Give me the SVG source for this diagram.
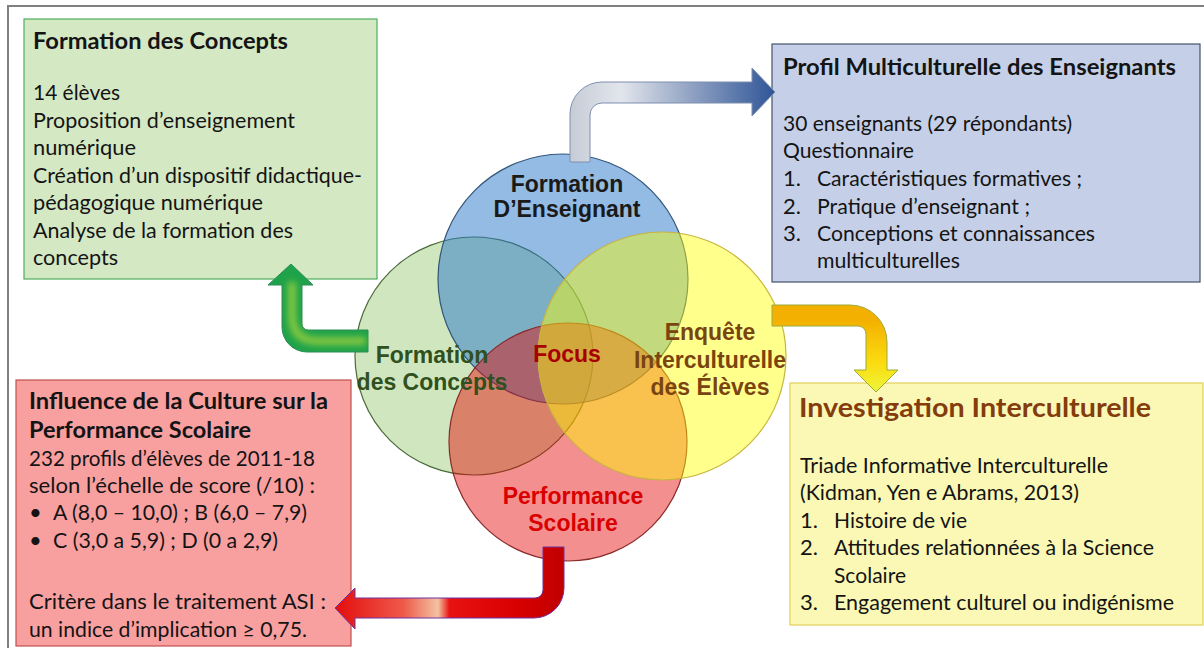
<svg xmlns="http://www.w3.org/2000/svg" width="1204" height="648" viewBox="0 0 1204 648">
<style>
.bx{font-family:Lato,"Open Sans","Liberation Sans",sans-serif;font-size:22px;fill:#141414}
.bt{font-weight:bold}
.cl{font-family:"Liberation Sans",Arial,sans-serif;font-size:23px;font-weight:bold;text-anchor:middle}
.circ{stroke-width:1.2}
</style>
<defs>
<linearGradient id="gBlue" gradientUnits="userSpaceOnUse" x1="570" y1="0" x2="775" y2="0">
<stop offset="0" stop-color="#c6ccd6"/>
<stop offset="0.25" stop-color="#e2e5ec"/>
<stop offset="0.55" stop-color="#9aaac8"/>
<stop offset="1" stop-color="#2f5597"/>
</linearGradient>
<linearGradient id="gOrange" gradientUnits="userSpaceOnUse" x1="0" y1="320" x2="0" y2="392">
<stop offset="0" stop-color="#f4b000"/>
<stop offset="0.6" stop-color="#fbdc10"/>
<stop offset="1" stop-color="#eef53a"/>
</linearGradient>
<linearGradient id="gRed" gradientUnits="userSpaceOnUse" x1="335" y1="0" x2="564" y2="0">
<stop offset="0" stop-color="#e30d0d"/>
<stop offset="0.3" stop-color="#ee5a4a"/>
<stop offset="0.45" stop-color="#f2c3a2"/>
<stop offset="0.5" stop-color="#e81212"/>
<stop offset="0.8" stop-color="#d80000"/>
<stop offset="1" stop-color="#c00000"/>
</linearGradient>
<filter id="blur" x="-20%" y="-20%" width="140%" height="140%"><feGaussianBlur stdDeviation="3"/></filter>
</defs>

<rect x="8" y="6" width="1210" height="660" fill="#ffffff" stroke="#808080" stroke-width="2"/>

<g id="box-formation">
<rect x="24" y="19" width="353" height="260" fill="#d5e8c4" stroke="#4cae5a" stroke-width="1.2"/>
<text class="bx bt" x="33" y="49" textLength="255" lengthAdjust="spacingAndGlyphs">Formation des Concepts</text>
<text class="bx" x="33" y="100" textLength="87" lengthAdjust="spacingAndGlyphs">14 élèves</text>
<text class="bx" x="33" y="128" textLength="262" lengthAdjust="spacingAndGlyphs">Proposition d’enseignement</text>
<text class="bx" x="33" y="155" textLength="103" lengthAdjust="spacingAndGlyphs">numérique</text>
<text class="bx" x="33" y="183" textLength="329" lengthAdjust="spacingAndGlyphs">Création d’un dispositif didactique-</text>
<text class="bx" x="33" y="210" textLength="230" lengthAdjust="spacingAndGlyphs">pédagogique numérique</text>
<text class="bx" x="33" y="238" textLength="260" lengthAdjust="spacingAndGlyphs">Analyse de la formation des</text>
<text class="bx" x="33" y="265" textLength="85" lengthAdjust="spacingAndGlyphs">concepts</text>
</g>

<g id="box-profil">
<rect x="772" y="44" width="428" height="238" fill="#c5d0e8" stroke="#44546a" stroke-width="1.2"/>
<text class="bx bt" x="783" y="75" textLength="393" lengthAdjust="spacingAndGlyphs">Profil Multiculturelle des Enseignants</text>
<text class="bx" x="783" y="131" textLength="289" lengthAdjust="spacingAndGlyphs">30 enseignants (29 répondants)</text>
<text class="bx" x="783" y="158" textLength="131" lengthAdjust="spacingAndGlyphs">Questionnaire</text>
<text class="bx" x="783" y="186">1.</text>
<text class="bx" x="817" y="186" textLength="265" lengthAdjust="spacingAndGlyphs">Caractéristiques formatives ;</text>
<text class="bx" x="783" y="214">2.</text>
<text class="bx" x="817" y="214" textLength="213" lengthAdjust="spacingAndGlyphs">Pratique d’enseignant ;</text>
<text class="bx" x="783" y="241">3.</text>
<text class="bx" x="817" y="241" textLength="278" lengthAdjust="spacingAndGlyphs">Conceptions et connaissances</text>
<text class="bx" x="817" y="268" textLength="143" lengthAdjust="spacingAndGlyphs">multiculturelles</text>
</g>

<g id="box-influence">
<rect x="16" y="380" width="335" height="266" fill="#f8a0a0" stroke="#c0504d" stroke-width="1.2"/>
<text class="bx bt" x="29" y="409" textLength="299" lengthAdjust="spacingAndGlyphs">Influence de la Culture sur la</text>
<text class="bx bt" x="29" y="438" textLength="222" lengthAdjust="spacingAndGlyphs">Performance Scolaire</text>
<text class="bx" x="29" y="466" textLength="286" lengthAdjust="spacingAndGlyphs">232 profils d’élèves de 2011-18</text>
<text class="bx" x="29" y="493" textLength="286" lengthAdjust="spacingAndGlyphs">selon l’échelle de score (/10) :</text>
<text class="bx" x="29" y="520">•</text>
<text class="bx" x="53" y="520" textLength="254" lengthAdjust="spacingAndGlyphs">A (8,0 – 10,0) ; B (6,0 – 7,9)</text>
<text class="bx" x="29" y="548">•</text>
<text class="bx" x="53" y="548" textLength="225" lengthAdjust="spacingAndGlyphs">C (3,0 a 5,9) ; D (0 a 2,9)</text>
<text class="bx" x="29" y="609" textLength="297" lengthAdjust="spacingAndGlyphs">Critère dans le traitement ASI :</text>
<text class="bx" x="29" y="637" textLength="278" lengthAdjust="spacingAndGlyphs">un indice d’implication ≥ 0,75.</text>
</g>

<g id="box-investigation">
<rect x="790" y="383" width="413" height="242" fill="#faf8b4" stroke="#e3cf5a" stroke-width="1.2"/>
<text class="bx bt" x="799" y="417" style="font-size:27px;fill:#843c0c" textLength="352" lengthAdjust="spacingAndGlyphs">Investigation Interculturelle</text>
<text class="bx" x="800" y="473" textLength="308" lengthAdjust="spacingAndGlyphs">Triade Informative Interculturelle</text>
<text class="bx" x="800" y="500" textLength="279" lengthAdjust="spacingAndGlyphs">(Kidman, Yen e Abrams, 2013)</text>
<text class="bx" x="800" y="528">1.</text>
<text class="bx" x="834" y="528" textLength="133" lengthAdjust="spacingAndGlyphs">Histoire de vie</text>
<text class="bx" x="800" y="555">2.</text>
<text class="bx" x="834" y="555" textLength="320" lengthAdjust="spacingAndGlyphs">Attitudes relationnées à la Science</text>
<text class="bx" x="834" y="583" textLength="72" lengthAdjust="spacingAndGlyphs">Scolaire</text>
<text class="bx" x="800" y="610">3.</text>
<text class="bx" x="834" y="610" textLength="340" lengthAdjust="spacingAndGlyphs">Engagement culturel ou indigénisme</text>
</g>

<g id="circle-concepts"><circle class="circ" cx="474" cy="356" r="119" fill="rgba(150,200,110,0.45)" stroke="#4a6a3a"/></g>
<g id="circle-enseignant"><circle class="circ" cx="563" cy="279" r="125" fill="rgba(40,120,200,0.5)" stroke="#34557a"/></g>
<g id="circle-performance"><circle class="circ" cx="568" cy="442" r="119" fill="rgba(230,0,0,0.44)" stroke="#8a2a2a"/></g>
<g id="circle-enquete"><circle class="circ" cx="662" cy="356" r="124" fill="rgba(255,255,0,0.45)" stroke="#c8b440"/></g>

<g id="connectors">
<path d="M570,162 L570,114 A32,32 0 0 1 602,82 L752,82 L752,68 L775,92 L752,116 L752,103 L602,103 A12,12 0 0 0 590,115 L590,162 Z" fill="url(#gBlue)" stroke="#7f8fae" stroke-width="1"/>
<path d="M368,330 L308,330 A6,6 0 0 1 302,324 L302,285 L313,285 L291,264 L268,285 L282,285 L282,327 A25,25 0 0 0 307,352 L368,352 Z" fill="#1fa34a" stroke="#2e8b57" stroke-width="1"/>
<path d="M366,341 L318,341 Q292,341 292,315 L292,282" fill="none" stroke="#a6d43c" stroke-width="8" opacity="0.75" filter="url(#blur)"/>
<path d="M772,305 L850,305 A37,37 0 0 1 887,342 L887,370 L898,370 L876,392 L854,370 L866,370 L866,334 A8,8 0 0 0 858,326 L772,326 Z" fill="url(#gOrange)" stroke="#9aab3a" stroke-width="1"/>
<path d="M543,547 L564,547 L564,588 A30,30 0 0 1 534,618 L355,618 L355,629 L335,608 L355,588 L355,598 L535,598 A8,8 0 0 0 543,590 Z" fill="url(#gRed)" stroke="#7030a0" stroke-width="1"/>
</g>

<g id="labels">
<text class="cl" x="567" y="192" fill="#1a1a1a">Formation</text>
<text class="cl" x="567" y="217" fill="#1a1a1a">D’Enseignant</text>
<text class="cl" x="432" y="363" fill="#2f5020">Formation</text>
<text class="cl" x="432" y="390" fill="#2f5020">des Concepts</text>
<text class="cl" x="567" y="362" fill="#a80000">Focus</text>
<text class="cl" x="710" y="340" fill="#7a4410">Enquête</text>
<text class="cl" x="710" y="368" fill="#7a4410">Interculturelle</text>
<text class="cl" x="710" y="395" fill="#7a4410">des Élèves</text>
<text class="cl" x="573" y="504" fill="#d80000">Performance</text>
<text class="cl" x="573" y="531" fill="#d80000">Scolaire</text>
</g>
</svg>
